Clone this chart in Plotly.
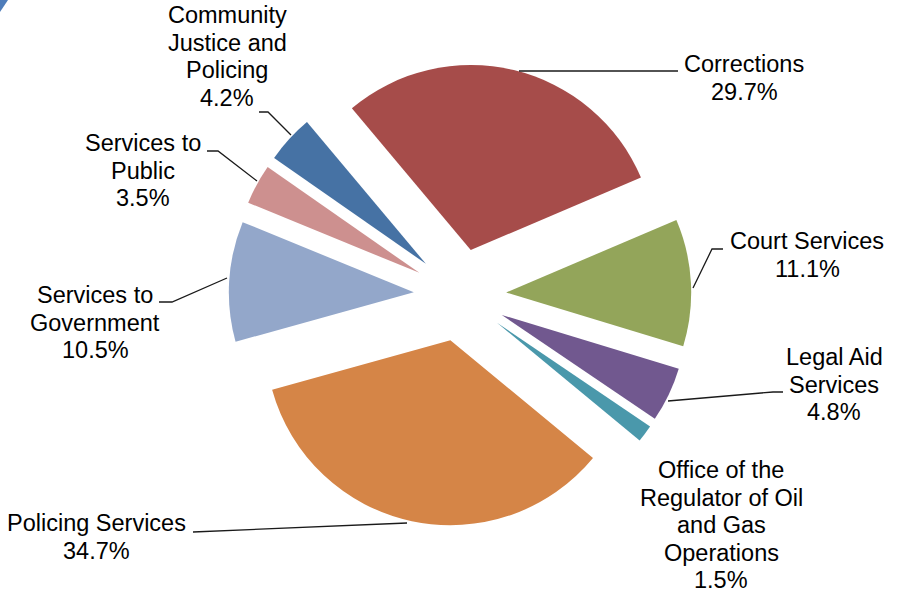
import plotly.graph_objects as go

W, H = 906, 593

# ---- data ----
categories = [
    "Corrections",
    "Court Services",
    "Legal Aid Services",
    "Office of the Regulator of Oil and Gas Operations",
    "Policing Services",
    "Services to Government",
    "Services to Public",
    "Community Justice and Policing",
]
values = [29.7, 11.1, 4.8, 1.5, 34.7, 10.5, 3.5, 4.2]
colors = ["#A64C4A", "#93A55A", "#71588F", "#4A98AB",
          "#D58547", "#93A7CA", "#CD908F", "#4672A4"]

# label text broken into display lines (name lines; percentage appended)
label_lines = [
    ["Corrections"],
    ["Court Services"],
    ["Legal Aid", "Services"],
    ["Office of the", "Regulator of Oil", "and Gas", "Operations"],
    ["Policing Services"],
    ["Services to", "Government"],
    ["Services to", "Public"],
    ["Community", "Justice and", "Policing"],
]

# ---- layout helpers (pixel positions of labels / leader lines) ----
label_pos = [  # (center x, first line center y) in pixels
    (744, 64), (807, 241), (834, 357), (721, 470),
    (96, 523), (95, 295), (143, 143), (227, 15),
]
line_h = 27.6
leader_paths = [
    [(678, 71), (519, 71)],
    [(723, 249), (712, 249), (693, 288)],
    [(783, 392), (773, 392), (668, 401)],
    None,
    [(193, 532), (407, 523)],
    [(159, 302), (172, 302), (227, 278)],
    [(207, 151), (218, 151), (257, 181)],
    [(259, 112), (268, 112), (291, 135)],
]


def px(x, y):
    return x / W, 1 - y / H


cx, cy, r, pull = 460, 295, 185, 0.25
half = r * (1 + pull)

fig = go.Figure(go.Pie(
    labels=categories,
    values=values,
    sort=False,
    direction="clockwise",
    rotation=-40,
    pull=[pull] * len(values),
    marker=dict(colors=colors, line=dict(width=0)),
    textinfo="none",
    hoverinfo="label+percent",
    showlegend=False,
    domain=dict(x=[(cx - half) / W, (cx + half) / W],
                y=[1 - (cy + half) / H, 1 - (cy - half) / H]),
))

annotations = []
for lines, v, (lx, ly) in zip(label_lines, values, label_pos):
    all_lines = lines + [f"{v:.1f}%"]
    for i, t in enumerate(all_lines):
        x, y = px(lx, ly + i * line_h)
        annotations.append(dict(
            x=x, y=y, xref="paper", yref="paper", text=t, showarrow=False,
            xanchor="center", yanchor="middle",
            font=dict(family="Liberation Sans, Arial, sans-serif", size=23.5, color="#000000"),
        ))

shapes = []
for path in leader_paths:
    if not path:
        continue
    d = ""
    for j, (x, y) in enumerate(path):
        X, Y = px(x, y)
        d += ("M" if j == 0 else " L") + f" {X:.5f},{Y:.5f}"
    shapes.append(dict(type="path", xref="paper", yref="paper", path=d,
                       line=dict(color="#1a1a1a", width=1.3)))

# small decorative corner mark at top-left
shapes.append(dict(type="path", xref="paper", yref="paper",
                   path=f"M 0,1 L {8/W:.5f},1 Q {4/W:.5f},{1-6/H:.5f} 0,{1-12/H:.5f} Z",
                   fillcolor="#4F7DBA", line=dict(width=0)))

fig.update_layout(
    width=W, height=H,
    margin=dict(l=0, r=0, t=0, b=0),
    paper_bgcolor="white", plot_bgcolor="white",
    annotations=annotations,
    shapes=shapes,
)

fig.write_html("out.html",
               config={"displayModeBar": False},
               post_script="document.body.style.margin='0';document.body.style.padding='0';")
